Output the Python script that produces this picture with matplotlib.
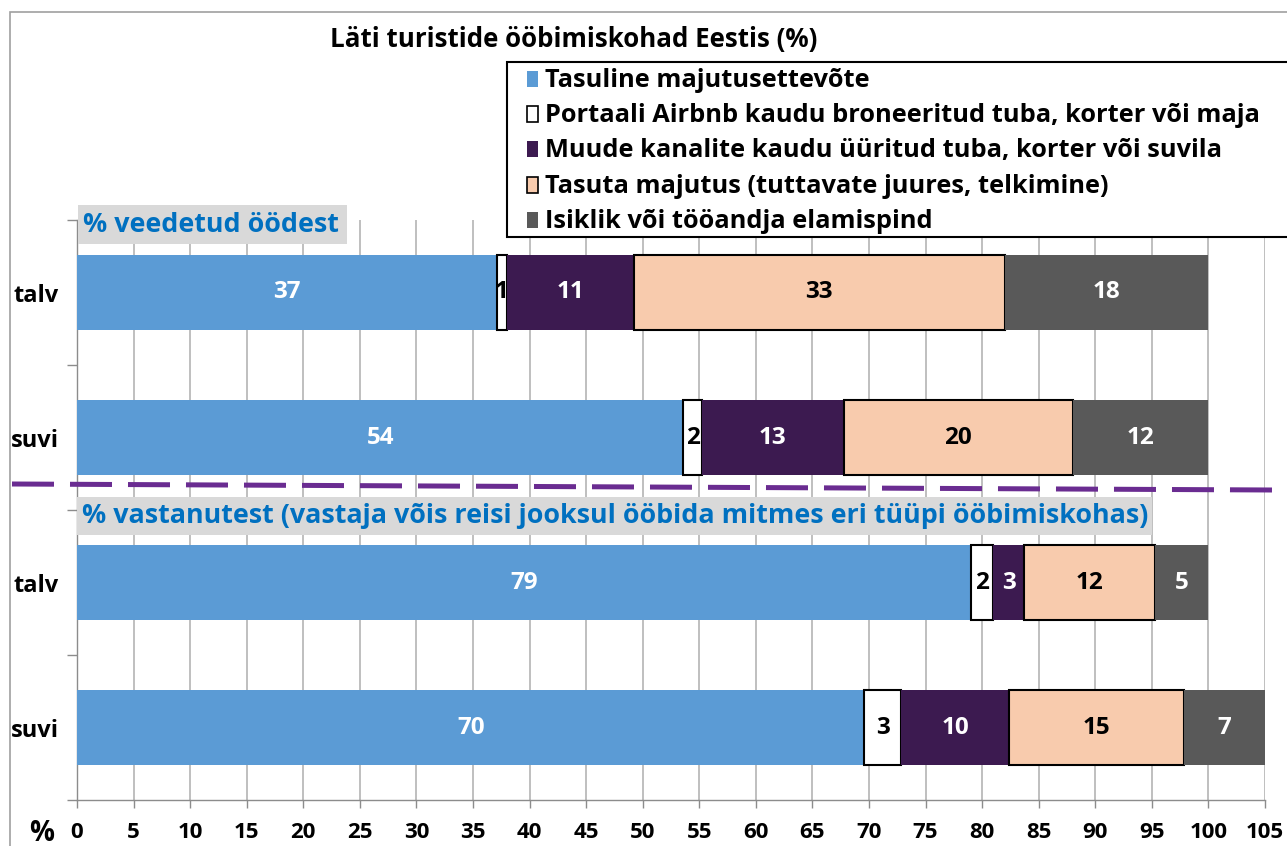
import matplotlib
matplotlib.use("Agg")
import matplotlib.pyplot as plt
from matplotlib.patches import Rectangle
from matplotlib.lines import Line2D

plt.rcParams['font.family'] = ['Open Sans', 'DejaVu Sans']
plt.rcParams['font.weight'] = 'bold'

W, H = 1287, 846

title = "Läti turistide ööbimiskohad Eestis (%)"
series = ["Tasuline majutusettevõte",
          "Portaali Airbnb kaudu broneeritud tuba, korter või maja",
          "Muude kanalite kaudu üüritud tuba, korter või suvila",
          "Tasuta majutus (tuttavate juures, telkimine)",
          "Isiklik või tööandja elamispind"]
colors = ["#5B9BD5", "#FFFFFF", "#3C1A50", "#F8CBAD", "#595959"]
edgecols = [None, "black", None, "black", None]
textcols = ["white", "black", "white", "black", "white"]
row_labels = ["talv", "suvi", "talv", "suvi"]
# rows top to bottom: nights winter, nights summer, respondents winter, respondents summer
values = [
    [37.1, 0.9, 11.2, 32.8, 18.0],
    [53.6, 1.6, 12.6, 20.2, 12.0],
    [79.0, 2.0, 2.7, 11.6, 4.7],
    [69.6, 3.2, 9.6, 15.4, 7.2],
]
section_labels = ["% veedetud öödest",
                  "% vastanutest (vastaja võis reisi jooksul ööbida mitmes eri tüüpi ööbimiskohas)"]
xticks = list(range(0, 106, 5))

def fx(x): return x / W
def fy(y): return 1 - y / H

fig = plt.figure(figsize=(W / 100, H / 100), dpi=100)
ax = fig.add_axes([fx(77), fy(800), fx(1265) - fx(77), fy(220) - fy(800)])

ypos = [3, 2, 1, 0]
bh = 0.52
for r, (yv, vals) in enumerate(zip(ypos, values)):
    left = 0
    for i, v in enumerate(vals):
        ec = edgecols[i] if edgecols[i] else colors[i]
        lw = 1.5 if edgecols[i] else 0
        ax.barh(yv, v, left=left, height=bh, color=colors[i], edgecolor=ec,
                linewidth=lw, zorder=3)
        ax.text(left + v / 2, yv, f"{v:.0f}", ha='center', va='center',
                color=textcols[i], fontsize=17.5, fontweight='bold', zorder=5)
        left += v

ax.set_xlim(0, 105)
ax.set_ylim(-0.5, 3.5)
ax.set_xticks(xticks)
ax.set_xticklabels([str(t) for t in xticks], fontsize=16, fontweight='bold')
ax.set_yticks(ypos)
ax.set_yticklabels(row_labels, fontsize=17, fontweight='bold')
ax.set_yticks([-0.5, 0.5, 1.5, 2.5, 3.5], minor=True)
ax.tick_params(axis='y', which='major', length=0, pad=13)
ax.tick_params(axis='y', which='minor', length=7, color='#8C8C8C', width=1)
ax.tick_params(axis='x', which='major', length=6, color='#8C8C8C', width=1, pad=10)
ax.grid(axis='x', color='#ADADAD', linewidth=1.1, zorder=0)
ax.set_axisbelow(True)
for s in ['top', 'right']:
    ax.spines[s].set_visible(False)
for s in ['left', 'bottom']:
    ax.spines[s].set_color('#8C8C8C')
    ax.spines[s].set_linewidth(1)

# outer chart frame
fig.patches.append(Rectangle((fx(10), fy(1000)), 2, fy(12) - fy(1000),
                             transform=fig.transFigure, fill=False,
                             edgecolor='#A0A0A0', linewidth=1.2))

# title
fig.text(fx(574), fy(39), title, ha='center', va='center', fontsize=18.6,
         fontweight='bold')

# % label
fig.text(fx(42), fy(833), "%", ha='center', va='center', fontsize=20,
         fontweight='bold')

# section label boxes
boxes = [(78, 205, 347, 244), (77, 497, 1152, 535)]
for (x0, y0, x1, y1), lab in zip(boxes, section_labels):
    fig.patches.append(Rectangle((fx(x0), fy(y1)), fx(x1) - fx(x0), fy(y0) - fy(y1),
                                 transform=fig.transFigure, facecolor='#D9D9D9',
                                 edgecolor='none', zorder=6))
    fig.text(fx(x0 + 5), fy((y0 + y1) / 2), lab, ha='left', va='center',
             fontsize=19.35, fontweight='bold', color='#0070C0', zorder=7)

# dashed separator
fig.lines.append(Line2D([fx(12), fx(1272)], [fy(484), fy(490)],
                        transform=fig.transFigure, color='#6A2C91',
                        linewidth=3.6, dashes=(8.4, 3.2), zorder=8))

# legend
fig.patches.append(Rectangle((fx(507), fy(237)), fx(1300) - fx(507), fy(62) - fy(237),
                             transform=fig.transFigure, facecolor='white',
                             edgecolor='black', linewidth=1.5, zorder=6))
for i, name in enumerate(series):
    yc = 79 + i * 35.2
    fig.patches.append(Rectangle((fx(527), fy(yc + 8)), fx(538) - fx(527), fy(yc - 8) - fy(yc + 8),
                                 transform=fig.transFigure, facecolor=colors[i],
                                 edgecolor='black' if edgecols[i] else colors[i],
                                 linewidth=1.2 if edgecols[i] else 0, zorder=7))
    fig.text(fx(545), fy(yc + 1.5), name, ha='left', va='center', fontsize=18.25,
             fontweight='bold', zorder=7)

fig.savefig("out.png", dpi=100)
